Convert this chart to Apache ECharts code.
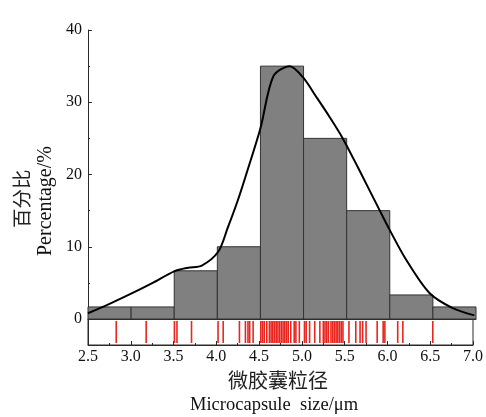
<!DOCTYPE html>
<html>
<head>
<meta charset="utf-8">
<script src="https://cdn.jsdelivr.net/npm/echarts@6/dist/echarts.min.js"></script>
<style>
  html, body { margin: 0; padding: 0; background: #ffffff; }
  #chart { width: 486px; height: 417px; }
</style>
</head>
<body>
<div id="chart"></div>
<script>
// Histogram bins (µm) and their share of particles (%)
const binStarts = [2.5, 3.0, 3.5, 4.0, 4.5, 5.0, 5.5, 6.0, 6.5];
const binEnds   = [3.0, 3.5, 4.0, 4.5, 5.0, 5.5, 6.0, 6.5, 7.0];
const binPercent = [1.67, 1.67, 6.67, 10, 35, 25, 15, 3.33, 1.67];

// Smoothed distribution curve (size µm, %)
const curveSize = [2.5, 2.75, 3.0, 3.25, 3.5, 3.66, 3.82, 4.01, 4.12, 4.24, 4.34, 4.5, 4.65, 4.84, 4.99, 5.15, 5.3, 5.45, 5.63, 5.88, 6.0, 6.19, 6.46, 6.73, 6.98];
const curvePercent = [0.8, 2.1, 3.5, 5.0, 6.6, 7.1, 7.4, 9.3, 12.6, 16.5, 20.2, 26.4, 33.6, 35.0, 33.5, 30.7, 28.0, 25.1, 21.0, 15.1, 12.3, 8.2, 3.6, 1.5, 0.5];

// Individual measured particle sizes (µm), drawn as a rug
const particleSizes = [2.83, 3.18, 3.51, 3.54, 3.71, 4.02, 4.08, 4.27, 4.34, 4.37, 4.39, 4.43,
  4.52, 4.54, 4.56, 4.59, 4.62, 4.64, 4.66, 4.68, 4.70, 4.72, 4.74, 4.76, 4.78, 4.80, 4.82,
  4.84, 4.87, 4.91, 4.93, 4.97, 5.03, 5.05, 5.09, 5.15, 5.21, 5.25, 5.27, 5.29, 5.31, 5.34,
  5.36, 5.38, 5.40, 5.42, 5.44, 5.46, 5.48, 5.55, 5.63, 5.68, 5.71, 5.75, 5.88, 5.95, 5.97,
  6.12, 6.18, 6.53];

// Axis tick values
const xTicks = [2.5, 3.0, 3.5, 4.0, 4.5, 5.0, 5.5, 6.0, 6.5, 7.0];
const yTicks = [0, 10, 20, 30, 40];

const serif = '"Liberation Serif", "DejaVu Serif", serif';
const cjk = '"Noto Sans CJK SC", sans-serif';
const ink = '#2a2a2a';

const chart = echarts.init(document.getElementById('chart'), null, { renderer: 'canvas' });

const histData = binStarts.map((s, i) => [s, binEnds[i], binPercent[i]]);
const curveData = curveSize.map((s, i) => [s, curvePercent[i]]);
const rugData = particleSizes.map(s => [s, 0.5]);

chart.setOption({
  animation: false,
  backgroundColor: '#ffffff',
  grid: [
    { left: 88, width: 388, top: 30, height: 289 },
    { left: 88, width: 388, top: 319, height: 26, show: true, borderColor: ink, borderWidth: 1, backgroundColor: 'transparent' }
  ],
  xAxis: [
    {
      gridIndex: 0, type: 'value', min: xTicks[0], max: xTicks[xTicks.length - 1], interval: 0.5,
      axisLine: { show: true, lineStyle: { color: ink, width: 1 } },
      axisTick: { show: false }, axisLabel: { show: false }, splitLine: { show: false }
    },
    {
      gridIndex: 1, type: 'value', min: xTicks[0], max: xTicks[xTicks.length - 1], interval: 0.5,
      axisLine: { show: true, lineStyle: { color: ink, width: 1 } },
      axisTick: { show: true, inside: true, length: 4, lineStyle: { color: ink } },
      minorTick: { show: true, splitNumber: 2, length: 2, lineStyle: { color: ink } },
      axisLabel: { show: true, margin: 4, fontFamily: serif, fontSize: 16, color: '#111',
        formatter: v => Number(v).toFixed(1) },
      splitLine: { show: false }
    }
  ],
  yAxis: [
    {
      gridIndex: 0, type: 'value', min: yTicks[0], max: yTicks[yTicks.length - 1], interval: 10,
      axisLine: { show: true, lineStyle: { color: ink, width: 1 } },
      axisTick: { show: true, inside: true, length: 4, lineStyle: { color: ink } },
      minorTick: { show: true, splitNumber: 2, length: 2, lineStyle: { color: ink } },
      axisLabel: { show: true, margin: 6, fontFamily: serif, fontSize: 16, color: '#111' },
      splitLine: { show: false }
    },
    {
      gridIndex: 1, type: 'value', min: 0, max: 1,
      axisLine: { show: true, lineStyle: { color: ink, width: 1 } },
      axisTick: { show: false }, axisLabel: { show: false }, splitLine: { show: false }
    }
  ],
  series: [
    {
      type: 'custom',
      xAxisIndex: 0, yAxisIndex: 0,
      data: histData,
      encode: { x: [0, 1], y: 2 },
      renderItem: function (params, api) {
        const p0 = api.coord([api.value(0), api.value(2)]);
        const p1 = api.coord([api.value(1), 0]);
        return {
          type: 'rect',
          shape: { x: p0[0], y: p0[1], width: p1[0] - p0[0], height: p1[1] - p0[1] },
          style: { fill: '#808080', stroke: '#333333', lineWidth: 1 }
        };
      },
      z: 2
    },
    {
      type: 'line',
      xAxisIndex: 0, yAxisIndex: 0,
      data: curveData,
      smooth: 0.3,
      showSymbol: false,
      lineStyle: { color: '#000000', width: 2 },
      z: 3
    },
    {
      type: 'scatter',
      xAxisIndex: 1, yAxisIndex: 1,
      data: rugData,
      symbol: 'rect',
      symbolSize: [1.6, 22],
      itemStyle: { color: '#e8261f', opacity: 1 },
      z: 3
    }
  ],
  graphic: [
    {
      type: 'text', x: 228, y: 370,
      style: { text: '微胶囊粒径', font: '20px ' + cjk, fill: '#222' }
    },
    {
      type: 'text', x: 190, y: 396,
      style: { text: 'Microcapsule  size/μm', font: '18.5px ' + serif, fill: '#111' }
    },
    {
      type: 'text', x: 12, y: 228, rotation: Math.PI / 2,
      style: { text: '百分比', font: '19.5px ' + cjk, fill: '#222' }
    },
    {
      type: 'text', x: 36, y: 256, rotation: Math.PI / 2,
      style: { text: 'Percentage/%', font: '20px ' + serif, fill: '#111' }
    }
  ]
});
</script>
</body>
</html>
